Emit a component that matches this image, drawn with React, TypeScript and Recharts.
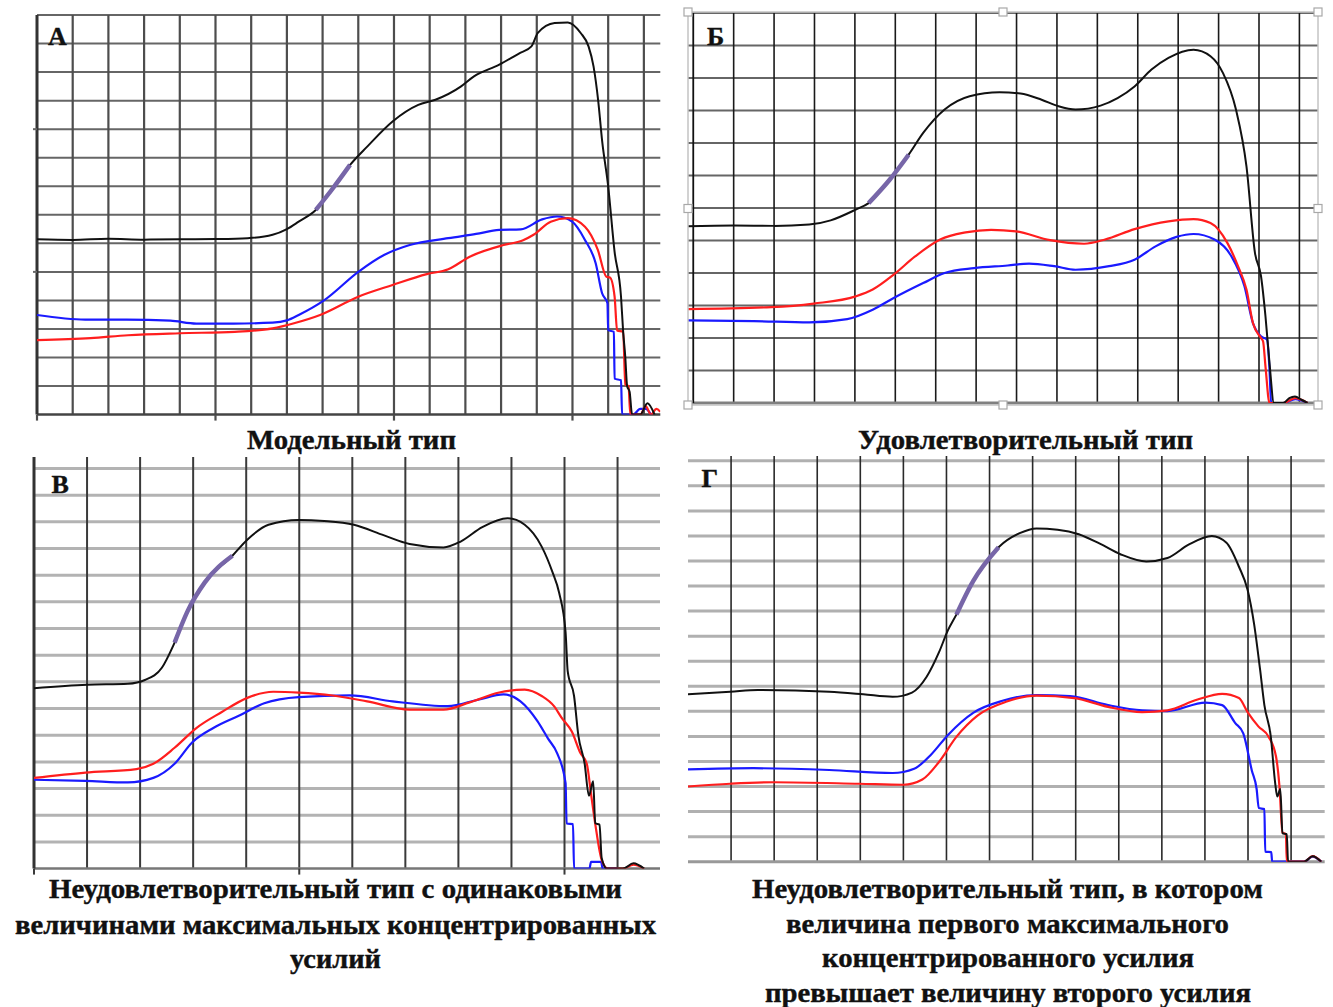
import { Line, LineChart, ReferenceLine, XAxis, YAxis } from "recharts";

// ---- А: модельный тип ----
const aBlackX = [0, 1, 2, 3, 4, 5, 5.9, 6.6, 7.0, 7.33, 7.81, 8.29, 8.77, 9.25, 9.96, 10.68, 11.16, 11.88, 12.24, 12.95, 13.5, 13.85, 14.03, 14.5, 14.87, 15.23, 15.45, 15.59, 15.72, 15.83, 16.0, 16.18, 16.36, 16.42, 16.48, 16.53, 16.6, 16.67, 16.9, 17.1, 17.3];
const aBlackY = [6.14, 6.12, 6.16, 6.13, 6.14, 6.15, 6.18, 6.3, 6.5, 6.76, 7.17, 7.93, 8.75, 9.39, 10.27, 10.85, 11.03, 11.5, 11.85, 12.26, 12.65, 12.9, 13.37, 13.72, 13.74, 13.37, 12.9, 12.2, 11.0, 9.6, 8.0, 5.7, 4.13, 2.9, 2.0, 1.0, 0.8, 0, 0, 0.4, 0];
const aRedX = [0, 1.5, 2.55, 4, 5.54, 6.6, 7.2, 7.93, 9.0, 9.96, 10.92, 11.52, 12.12, 13.07, 13.6, 13.91, 14.39, 14.87, 15.35, 15.71, 15.95, 16.05, 16.18, 16.25, 16.42, 16.48, 16.57, 16.62, 16.9, 17.05, 17.2, 17.35, 17.46];
const aRedY = [2.61, 2.68, 2.78, 2.85, 2.9, 3.02, 3.2, 3.49, 4.13, 4.54, 4.92, 5.09, 5.53, 5.94, 6.1, 6.3, 6.76, 6.88, 6.58, 5.77, 4.83, 4.8, 4.13, 2.95, 2.9, 1.05, 1.0, 0, 0, 0.3, 0, 0.2, 0.1];
const aBlueX = [0, 1.35, 2.5, 3.74, 4.46, 5.5, 6.6, 7.0, 7.33, 8.05, 9.0, 9.72, 10.44, 11.52, 12.3, 12.95, 13.55, 14.15, 14.57, 14.99, 15.35, 15.65, 15.83, 15.98, 16.0, 16.16, 16.18, 16.36, 16.39, 16.7, 16.9, 17.05, 17.2];
const aBlueY = [3.49, 3.33, 3.33, 3.29, 3.19, 3.19, 3.22, 3.3, 3.49, 4.01, 5.0, 5.59, 5.94, 6.18, 6.33, 6.47, 6.49, 6.84, 6.94, 6.76, 6.12, 5.3, 4.25, 3.9, 2.96, 2.9, 1.26, 1.2, 0, 0, 0.2, 0.2, 0];
const aPurple = [7.81, 8.77];

// ---- Б: удовлетворительный тип ----
const bBlackX = [-0.13, 1, 2, 2.87, 3.4, 4.02, 4.34, 4.86, 5.33, 5.69, 6.22, 6.84, 7.58, 8.1, 8.62, 9.04, 9.46, 10.08, 10.5, 10.92, 11.34, 11.76, 12.38, 12.8, 13.11, 13.43, 13.69, 13.9, 14.05, 14.16, 14.26, 14.37, 14.6, 14.75, 14.89, 15.05, 15.2];
const bBlackY = [5.44, 5.46, 5.45, 5.49, 5.62, 5.95, 6.15, 6.87, 7.64, 8.31, 9.03, 9.44, 9.56, 9.52, 9.33, 9.13, 9.03, 9.15, 9.38, 9.74, 10.26, 10.62, 10.87, 10.67, 10.15, 9.03, 7.28, 4.62, 3.9, 2.67, 1.23, 0, 0, 0.15, 0.2, 0.1, 0];
const bRedX = [-0.13, 1.93, 2.98, 4.02, 4.44, 4.96, 5.49, 6.11, 6.74, 7.37, 7.99, 8.83, 9.67, 10.19, 10.92, 11.76, 12.38, 12.8, 13.22, 13.48, 13.69, 13.85, 14.05, 14.1, 14.16, 14.26, 14.6, 14.9, 15.2];
const bRedY = [2.89, 2.95, 3.06, 3.28, 3.49, 3.95, 4.51, 5.03, 5.25, 5.33, 5.28, 5.01, 4.9, 5.03, 5.35, 5.59, 5.66, 5.54, 4.92, 4.21, 3.49, 2.46, 2.0, 1.9, 1.13, 0, 0, 0.15, 0];
const bBlueX = [-0.13, 1.5, 2.87, 3.81, 4.44, 4.96, 5.69, 6.22, 6.95, 7.78, 8.31, 8.93, 9.46, 10.29, 10.92, 11.44, 11.96, 12.38, 12.9, 13.32, 13.64, 13.85, 14.05, 14.2, 14.26, 14.3, 14.6, 14.9, 15.2];
const bBlueY = [2.54, 2.52, 2.48, 2.58, 2.87, 3.23, 3.69, 4.0, 4.15, 4.23, 4.29, 4.21, 4.1, 4.21, 4.41, 4.82, 5.11, 5.2, 5.03, 4.51, 3.59, 2.46, 2.05, 1.95, 1.03, 0, 0, 0.12, 0];
const bPurple = [4.34, 5.33];

// ---- В: одинаковые максимумы ----
const vBlackX = [0, 1.0, 1.77, 2.09, 2.41, 2.65, 2.9, 3.22, 3.74, 4.02, 4.42, 4.99, 5.47, 6.03, 6.6, 7.08, 7.72, 8.05, 8.45, 8.93, 9.25, 9.57, 9.77, 9.9, 10.02, 10.06, 10.18, 10.26, 10.38, 10.46, 10.54, 10.58, 10.66, 10.7, 10.8, 11.1, 11.3, 11.5];
const vBlackY = [6.76, 6.89, 6.93, 7.07, 7.53, 8.47, 9.67, 10.73, 11.73, 12.33, 12.89, 13.07, 13.03, 12.89, 12.49, 12.17, 12.04, 12.27, 12.8, 13.13, 12.89, 12.07, 11.13, 10.33, 8.87, 7.4, 6.47, 5.0, 3.93, 2.73, 3.27, 1.7, 1.65, 0.4, 0, 0, 0.2, 0];
const vRedX = [0, 0.97, 1.93, 2.25, 2.65, 3.06, 3.54, 4.02, 4.51, 4.99, 5.63, 6.28, 7.08, 7.72, 8.21, 8.77, 9.25, 9.57, 9.81, 9.94, 10.14, 10.3, 10.42, 10.5, 10.58, 10.7, 10.82, 11.1, 11.3, 11.5];
const vRedY = [3.4, 3.6, 3.73, 3.93, 4.53, 5.27, 5.87, 6.4, 6.63, 6.6, 6.49, 6.27, 5.96, 5.96, 6.23, 6.6, 6.71, 6.47, 6.07, 5.67, 5.13, 4.33, 3.93, 2.8, 1.67, 0.33, 0, 0, 0.15, 0];
const vBlueX = [0, 0.97, 1.77, 2.25, 2.65, 2.98, 3.38, 3.86, 4.34, 4.99, 5.95, 6.76, 7.8, 8.37, 8.85, 9.17, 9.49, 9.69, 9.86, 10.02, 10.04, 10.16, 10.18, 10.47, 10.5, 10.69, 10.72, 11.0];
const vBlueY = [3.33, 3.29, 3.23, 3.4, 3.93, 4.73, 5.27, 5.73, 6.2, 6.43, 6.49, 6.27, 6.09, 6.33, 6.53, 6.27, 5.53, 4.87, 4.33, 3.2, 1.69, 1.67, 0, 0, 0.25, 0.25, 0, 0];
const vPurple = [2.65, 3.74];

// ---- Г: первый максимум выше второго ----
const gBlackX = [0, 0.98, 1.62, 3.28, 4.07, 4.75, 5.2, 5.54, 5.83, 6.03, 6.23, 6.62, 7.21, 7.7, 8.09, 8.58, 9.07, 9.56, 10.05, 10.64, 11.13, 11.62, 12.16, 12.5, 12.79, 12.99, 13.14, 13.28, 13.38, 13.53, 13.63, 13.68, 13.75, 13.8, 13.9, 13.93, 14.3, 14.5, 14.7];
const gBlackY = [6.68, 6.78, 6.85, 6.78, 6.68, 6.58, 6.75, 7.38, 8.37, 9.22, 9.86, 11.2, 12.55, 13.11, 13.3, 13.25, 13.07, 12.69, 12.26, 11.98, 12.12, 12.65, 13.0, 12.73, 11.77, 10.85, 9.5, 7.67, 6.25, 4.98, 3.15, 2.6, 2.9, 1.13, 1.1, 0, 0, 0.22, 0];
const gRedX = [0, 0.98, 2.01, 3.97, 5.0, 5.44, 5.83, 6.23, 6.72, 7.4, 8.09, 8.97, 9.75, 10.54, 11.13, 11.81, 12.4, 12.79, 12.99, 13.24, 13.48, 13.65, 13.73, 13.8, 13.88, 13.9, 14.3, 14.5, 14.7];
const gRedY = [3.0, 3.11, 3.17, 3.11, 3.07, 3.28, 3.99, 4.98, 5.83, 6.39, 6.63, 6.53, 6.18, 5.97, 6.04, 6.46, 6.7, 6.53, 5.97, 5.4, 4.98, 4.2, 3.0, 1.16, 1.1, 0, 0, 0.22, 0];
const gBlueX = [0, 1.52, 3.28, 4.75, 5.25, 5.64, 6.03, 6.62, 7.3, 8.09, 8.87, 9.75, 10.54, 11.13, 12.01, 12.4, 12.7, 12.89, 13.09, 13.2, 13.25, 13.38, 13.4, 13.54, 13.56, 14.3, 14.5, 14.7];
const gBlueY = [3.68, 3.73, 3.66, 3.54, 3.71, 4.27, 5.05, 5.94, 6.42, 6.65, 6.61, 6.25, 6.04, 6.01, 6.35, 6.25, 5.54, 5.12, 3.63, 2.9, 2.14, 2.1, 0.4, 0.38, 0, 0, 0.2, 0];
const gPurple = [6.23, 7.21];

// подписи
const capA = "Модельный тип";
const capB = "Удовлетворительный тип";
const capV = ["Неудовлетворительный тип с одинаковыми", "величинами максимальных концентрированных", "усилий"];
const capG = ["Неудовлетворительный тип, в котором", "величина первого максимального", "концентрированного усилия", "превышает величину второго усилия"];
const letters = ["А", "Б", "В", "Г"];

const BLACK = "#111";
const RED = "#ff1e1e";
const BLUE = "#1a1aff";
const PURPLE = "#7766a8";
const FONT = "'Liberation Serif', 'Times New Roman', serif";

const MARGIN = { top: 4, right: 4, bottom: 10, left: 8 };

type Pt = { x: number; y: number };
const zip = (xs: number[], ys: number[]): Pt[] => xs.map((x, i) => ({ x, y: ys[i] }));
const range = (from: number, to: number) => {
  const out: number[] = [];
  for (let i = from; i <= to; i++) out.push(i);
  return out;
};

type PanelCfg = {
  left: number;
  top: number;
  right: number;
  bottom: number;
  xDomain: [number, number];
  yDomain: [number, number];
  vLines: number[];
  hLines: number[];
  vStroke: string;
  vWidth: number;
  hStroke: string;
  hWidth: number;
  leftAxis?: { stroke: string; width: number };
  bottomAxis: { stroke: string; width: number };
  xMajor: number[];
  yMajor: number[];
  black: Pt[];
  red: Pt[];
  blue: Pt[];
  purple: number[];
};

const panels: PanelCfg[] = [
  {
    left: 36.7, top: 14.7, right: 660, bottom: 414.3,
    xDomain: [0, 17.46], yDomain: [0, 14],
    vLines: range(1, 17), hLines: range(1, 14),
    vStroke: "#4d4d4d", vWidth: 2.2, hStroke: "#666", hWidth: 2,
    leftAxis: { stroke: "#333", width: 3 },
    bottomAxis: { stroke: "#444", width: 2.5 },
    xMajor: [0, 5, 10, 15], yMajor: [5, 10],
    black: zip(aBlackX, aBlackY), red: zip(aRedX, aRedY), blue: zip(aBlueX, aBlueY),
    purple: aPurple,
  },
  {
    left: 688, top: 13.3, right: 1318, bottom: 403.3,
    xDomain: [-0.13, 15.46], yDomain: [0, 12],
    vLines: range(1, 15), hLines: range(1, 12),
    vStroke: "#1a1a1a", vWidth: 1.6, hStroke: "#666", hWidth: 2,
    leftAxis: { stroke: "#111", width: 1.8 },
    bottomAxis: { stroke: "#808080", width: 3 },
    xMajor: [], yMajor: [],
    black: zip(bBlackX, bBlackY), red: zip(bRedX, bRedY), blue: zip(bBlueX, bBlueY),
    purple: bPurple,
  },
  {
    left: 34, top: 456.7, right: 660, bottom: 868.3,
    xDomain: [0, 11.8], yDomain: [0, 15.43],
    vLines: range(1, 11), hLines: range(1, 15),
    vStroke: "#3a3a3a", vWidth: 2, hStroke: "#b3b3b3", hWidth: 3,
    leftAxis: { stroke: "#333", width: 3 },
    bottomAxis: { stroke: "#777", width: 2.5 },
    xMajor: [0, 5, 10], yMajor: [],
    black: zip(vBlackX, vBlackY), red: zip(vRedX, vRedY), blue: zip(vBlueX, vBlueY),
    purple: vPurple,
  },
  {
    left: 688.3, top: 456, right: 1325, bottom: 861.7,
    xDomain: [0, 14.78], yDomain: [0, 16.19],
    vLines: range(1, 14), hLines: range(1, 16),
    vStroke: "#2a2a2a", vWidth: 1.6, hStroke: "#b0b0b0", hWidth: 3,
    bottomAxis: { stroke: "#999", width: 3 },
    xMajor: [], yMajor: [],
    black: zip(gBlackX, gBlackY), red: zip(gRedX, gRedY), blue: zip(gBlueX, gBlueY),
    purple: gPurple,
  },
];

const Panel = ({ p }: { p: PanelCfg }) => {
  const w = p.right - p.left;
  const h = p.bottom - p.top;
  const unitY = h / (p.yDomain[1] - p.yDomain[0]);
  const unitX = w / (p.xDomain[1] - p.xDomain[0]);
  const purple = p.black.filter((d) => d.x >= p.purple[0] && d.x <= p.purple[1]);

  return (
    <div style={{ position: "absolute", left: p.left - MARGIN.left, top: p.top - MARGIN.top }}>
      <LineChart width={w + MARGIN.left + MARGIN.right} height={h + MARGIN.top + MARGIN.bottom} margin={MARGIN}>
        <XAxis type="number" dataKey="x" domain={p.xDomain} hide allowDataOverflow />
        <YAxis type="number" dataKey="y" domain={p.yDomain} hide allowDataOverflow />
        {p.hLines.map((v) => (
          <ReferenceLine key={`h${v}`} y={v} stroke={p.hStroke} strokeWidth={p.hWidth} />
        ))}
        {p.vLines.map((v) => (
          <ReferenceLine key={`v${v}`} x={v} stroke={p.vStroke} strokeWidth={p.vWidth} />
        ))}
        <ReferenceLine y={0} stroke={p.bottomAxis.stroke} strokeWidth={p.bottomAxis.width} />
        {p.leftAxis && <ReferenceLine x={0} stroke={p.leftAxis.stroke} strokeWidth={p.leftAxis.width} />}
        {p.xMajor.map((v) => (
          <ReferenceLine
            key={`tx${v}`}
            segment={[{ x: v, y: 0 }, { x: v, y: -6 / unitY }]}
            ifOverflow="visible"
            stroke={p.vStroke}
            strokeWidth={p.vWidth}
          />
        ))}
        {p.yMajor.map((v) => (
          <ReferenceLine
            key={`ty${v}`}
            segment={[{ x: -4 / unitX, y: v }, { x: 0, y: v }]}
            ifOverflow="visible"
            stroke={p.hStroke}
            strokeWidth={p.hWidth}
          />
        ))}
        <Line data={p.blue} dataKey="y" type="monotone" stroke={BLUE} strokeWidth={2.2} dot={false} isAnimationActive={false} />
        <Line data={p.red} dataKey="y" type="monotone" stroke={RED} strokeWidth={2.2} dot={false} isAnimationActive={false} />
        <Line data={p.black} dataKey="y" type="monotone" stroke={BLACK} strokeWidth={2} dot={false} isAnimationActive={false} />
        <Line data={purple} dataKey="y" type="monotone" stroke={PURPLE} strokeWidth={4.5} dot={false} isAnimationActive={false} />
      </LineChart>
    </div>
  );
};

// рамка выделения вокруг графика Б
const frame = { x: 688, y: 12, w: 630, h: 393 };
const handles = [
  [0, 0], [0.5, 0], [1, 0],
  [0, 0.5], [1, 0.5],
  [0, 1], [0.5, 1], [1, 1],
];

const Caption = ({ text, x, width, y }: { text: string; x: number; width: number; y: number }) => (
  <text
    x={x}
    y={y}
    textLength={width}
    lengthAdjust="spacingAndGlyphs"
    fontFamily={FONT}
    fontWeight="bold"
    fontSize={27}
    fill="#111"
    stroke="#111"
    strokeWidth={0.4}
  >
    {text}
  </text>
);

const App = () => (
  <div style={{ position: "absolute", left: 0, top: 0, width: 1333, height: 1007, background: "#fff", overflow: "hidden" }}>
    {panels.map((p, i) => (
      <Panel key={i} p={p} />
    ))}
    <svg width={1333} height={1007} style={{ position: "absolute", left: 0, top: 0, pointerEvents: "none" }}>
      <rect x={frame.x} y={frame.y} width={frame.w} height={frame.h} fill="none" stroke="#c4c4c4" strokeWidth={1.5} />
      {handles.map(([fx, fy], i) => (
        <rect key={i} x={frame.x + fx * frame.w - 4} y={frame.y + fy * frame.h - 4} width={8} height={8} fill="#fff" stroke="#a8a8a8" strokeWidth={1.2} />
      ))}
      <g fontFamily={FONT} fontWeight="bold" fontSize={26} fill="#111" stroke="#111" strokeWidth={0.4}>
        <text x={48} y={44.5}>{letters[0]}</text>
        <text x={707} y={45}>{letters[1]}</text>
        <text x={51.5} y={492.5}>{letters[2]}</text>
        <text x={701.5} y={486.5}>{letters[3]}</text>
      </g>
      <Caption text={capA} x={247} width={209} y={448.5} />
      <Caption text={capB} x={858} width={335} y={448.5} />
      <Caption text={capV[0]} x={49} width={573} y={898} />
      <Caption text={capV[1]} x={15} width={641} y={933.5} />
      <Caption text={capV[2]} x={290} width={91} y={968} />
      <Caption text={capG[0]} x={752} width={511} y={897.5} />
      <Caption text={capG[1]} x={786} width={443} y={932.5} />
      <Caption text={capG[2]} x={822} width={372} y={967} />
      <Caption text={capG[3]} x={765} width={486} y={1002} />
    </svg>
  </div>
);

export default App;
